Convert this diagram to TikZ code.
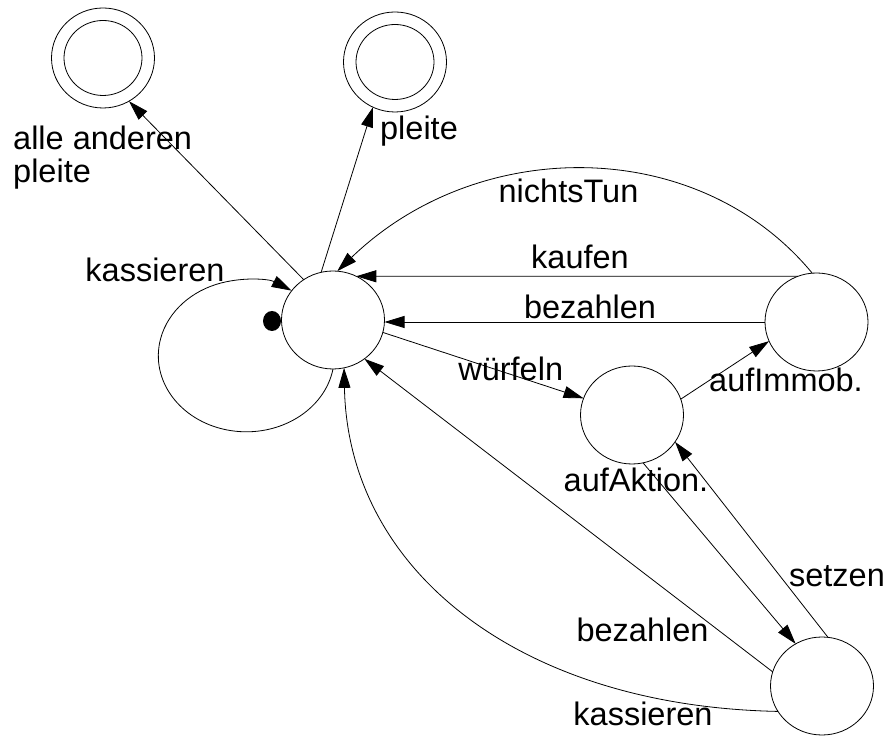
\documentclass[tikz,border=0pt]{standalone}
\usepackage{fontspec}
\setmainfont{Liberation Sans}
\usetikzlibrary{arrows.meta,shapes.geometric}
\begin{document}
\begin{tikzpicture}[x=1pt,y=1pt,
  state/.style={ellipse,draw,line width=0.8pt,minimum width=103pt,minimum height=98pt,inner sep=0pt,outer sep=0pt},
  outerfin/.style={ellipse,draw,line width=0.8pt,minimum width=103pt,minimum height=100pt,inner sep=0pt,outer sep=0pt},
  innerfin/.style={ellipse,draw,line width=0.8pt,minimum width=78pt,minimum height=75pt,inner sep=0pt,outer sep=0pt},
  lbl/.style={font=\fontsize{32.5}{38}\selectfont,inner sep=0pt,anchor=base},
  conn/.style={line width=0.8pt,-{Triangle[length=20pt,width=12pt]}}
]
\useasboundingbox (0,0) rectangle (888,738);
% final states
\node[outerfin] (F1) at (103,680) {};
\node[innerfin] (F1i) at (103,680) {};
\node[outerfin] (F2) at (395,676) {};
\node[innerfin] (F2i) at (395,676) {};
% states
\node[state] (M) at (333,418) {};
\node[state] (R) at (816.5,416) {};
\node[state] (A) at (632,323) {};
\node[state] (B) at (822,52) {};
% initial marker
\node[ellipse,fill=black,minimum width=18pt,minimum height=20pt,inner sep=0pt] (init) at (272,417) {};
% connectors
\draw[conn] (M.126) -- (F1.-59);
\draw[conn] (M.104) -- (F2.244);
\draw[conn] (M.south) arc[start angle=-10,end angle=-301,x radius=88,y radius=76];
\draw[conn] (R.95) .. controls +(-114,138) and +(141,136) .. (M.85);
\draw[conn] (R.112.4) -- (M.62.4);
\draw[conn] (R.west) -- (R.west -| M.east);
\draw[conn] (M.-14.6) -- (A.161);
\draw[conn] (A.18.8) -- (R.202.6);
\draw[conn] (A.-77) -- (B.122);
\draw[conn] (B.83) -- (A.-32);
\draw[conn] (B.164.7) -- (M.-51);
\draw[conn] (B.210) .. controls +(-258,5) and +(4,-203) .. (M.-77);
% labels
\node[lbl,anchor=base west] (lA1) at (13,588) {alle anderen};
\node[lbl,anchor=base west] (lA2) at (13,555) {pleite};
\node[lbl] (lF2) at (419,598) {pleite};
\node[lbl] (lK1) at (155,456) {kassieren};
\node[lbl] (lN) at (568.5,535) {nichtsTun};
\node[lbl] (lKa) at (580,469) {kaufen};
\node[lbl] (lB1) at (590,419) {bezahlen};
\node[lbl] (lW) at (510.7,357) {würfeln};
\node[lbl] (lI) at (786,346) {aufImmob.};
\node[lbl] (lAk) at (636,246) {aufAktion.};
\node[lbl] (lS) at (837,151) {setzen};
\node[lbl] (lB2) at (642.5,96) {bezahlen};
\node[lbl] (lK2) at (643,12) {kassieren};
\end{tikzpicture}
\end{document}
